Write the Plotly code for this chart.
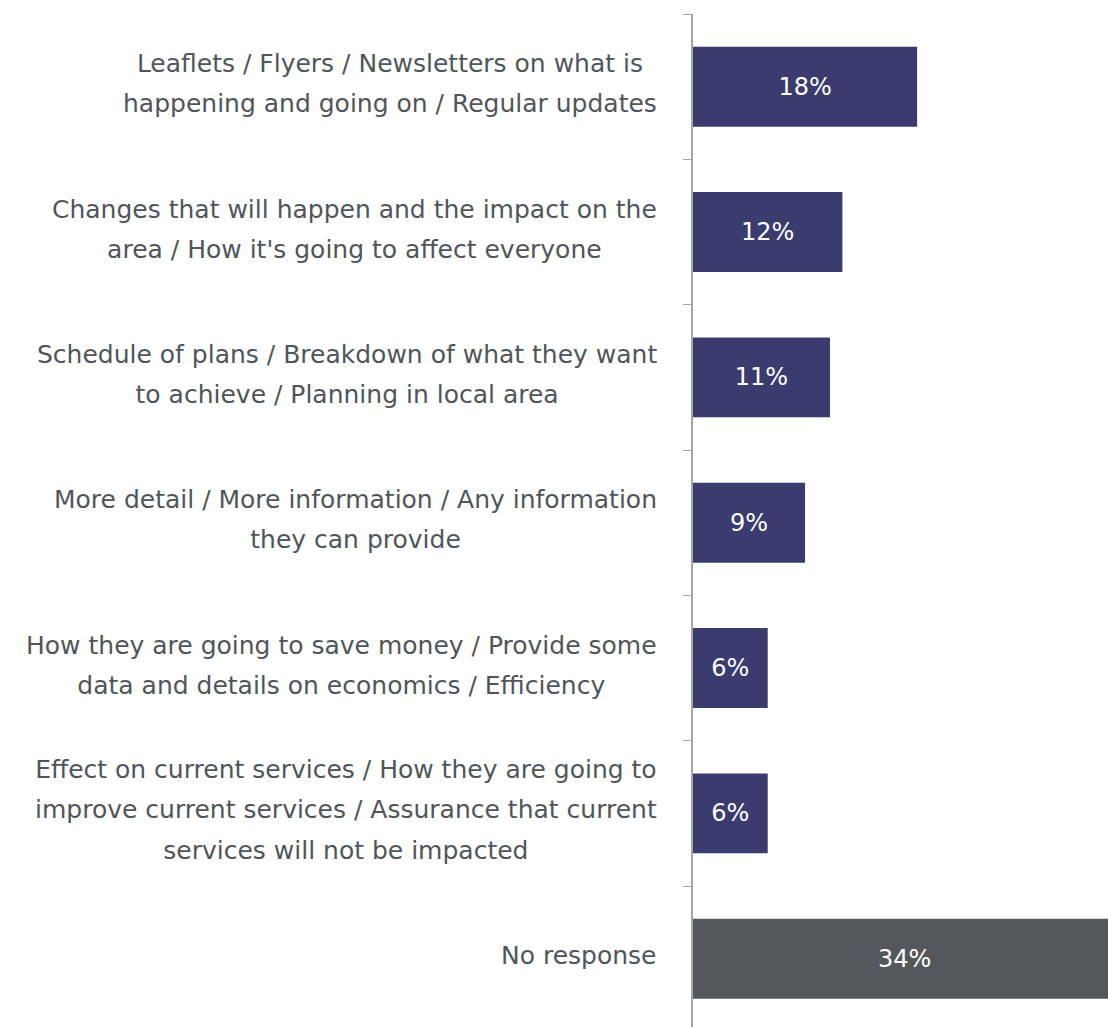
import plotly.graph_objects as go

# 数据
labels = [
    'Leaflets / Flyers / Newsletters on what is<br>happening and going on / Regular updates',
    "Changes that will happen and the impact on the<br>area / How it's going to affect everyone",
    'Schedule of plans / Breakdown of what they want<br>to achieve / Planning in local area',
    'More detail / More information / Any information<br>they can provide',
    'How they are going to save money / Provide some<br>data and details on economics / Efficiency',
    'Effect on current services / How they are going to<br>improve current services / Assurance that current<br>services will not be impacted',
    'No response',
]
values = [18, 12, 11, 9, 6, 6, 34]
value_text = ['18%', '12%', '11%', '9%', '6%', '6%', '34%']
colors = ['#3a3c6f'] * 6 + ['#54585c']
cats = [f'c{i}' for i in range(len(labels))]


def _label_html(label, size=25):
    # 每行单独设置字号，外层字号决定行距(约40px)
    lines = label.split('<br>')
    return '<br>'.join(f'<span style="font-size:{size}px">{ln}</span>' for ln in lines)


fig = go.Figure(go.Bar(
    x=values,
    y=cats,
    orientation='h',
    marker_color=colors,
    marker_line_width=0,
    width=0.55,
    text=value_text,
    textposition='inside',
    insidetextanchor='middle',
    textangle=0,
    textfont=dict(color='white', size=24, family='DejaVu Sans'),
    hoverinfo='skip',
))

for c, lab in zip(cats, labels):
    fig.add_annotation(
        x=0, xref='paper', y=c, yref='y',
        xanchor='right', yanchor='middle', xshift=-34, yshift=3,
        text=_label_html(lab), showarrow=False, align='center',
        font=dict(size=31, color='#50555a', family='DejaVu Sans'),
    )

fig.update_xaxes(range=[0, 33.33], visible=False, showgrid=False, zeroline=False)
fig.update_yaxes(
    range=[6.47, -0.5], showticklabels=False, showgrid=False, zeroline=False,
    showline=True, linecolor='#a6a6a6', linewidth=2,
    ticks='outside', tickson='boundaries', ticklen=8, tickcolor='#a6a6a6', tickwidth=1,
)
fig.update_layout(
    width=1108, height=1027,
    margin=dict(l=693, r=0, t=14, b=0),
    plot_bgcolor='white', paper_bgcolor='white',
    showlegend=False, bargap=0.45,
    font=dict(family='DejaVu Sans'),
)
# 去掉页面body默认边距，避免整体偏移和滚动条
fig.write_html('out.html', config={'displayModeBar': False},
               post_script="document.body.style.margin='0';document.body.style.overflow='hidden';")
